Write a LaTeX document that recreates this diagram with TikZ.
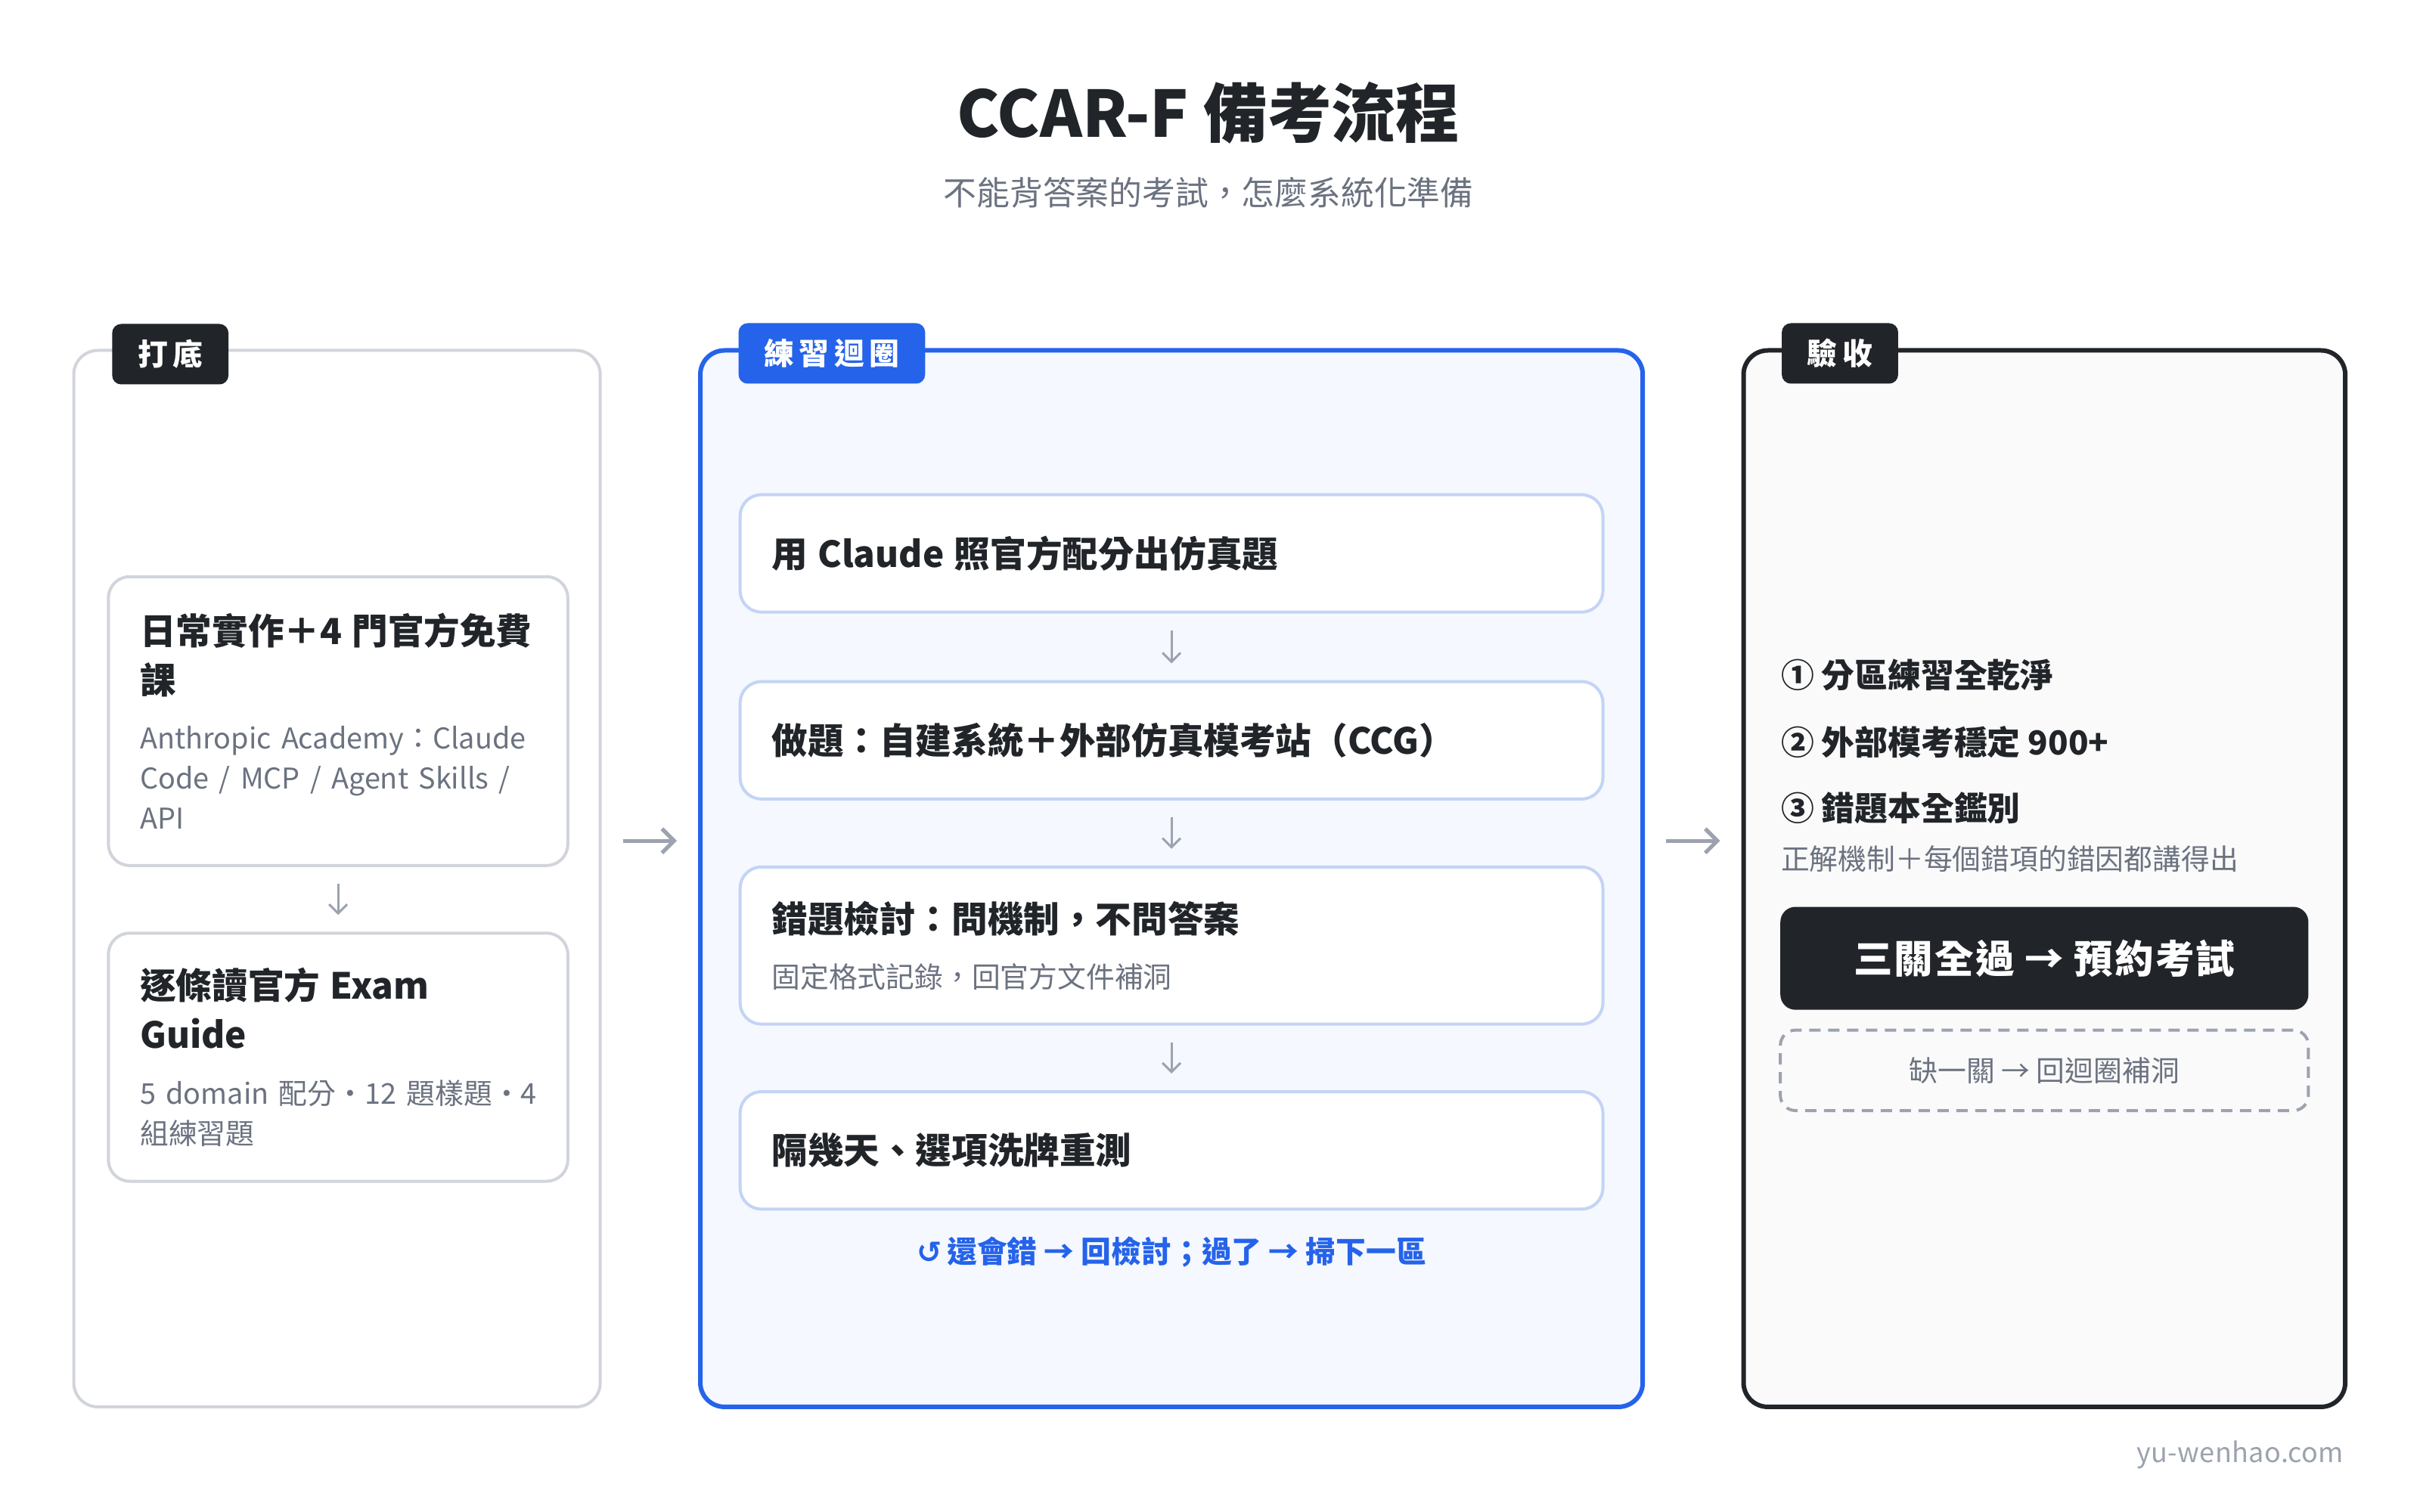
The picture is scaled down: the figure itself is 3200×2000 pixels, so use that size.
\documentclass[tikz,border=0pt]{standalone}
\usepackage{fontspec}
\setmainfont{Noto Sans CJK TC}
\newfontfamily\glyphfont{DejaVu Sans}
\usetikzlibrary{arrows.meta,positioning}
\hyphenpenalty=10000
\exhyphenpenalty=10000

\definecolor{ink}{HTML}{212529}
\definecolor{muted}{HTML}{6B7280}
\definecolor{faint}{HTML}{9CA3AF}
\definecolor{edge}{HTML}{D1D5DB}
\definecolor{loopblue}{HTML}{2563EB}
\definecolor{loopfill}{HTML}{F5F8FF}
\definecolor{loopedge}{HTML}{C3D4F5}
\definecolor{checkfill}{HTML}{FAFAFA}

\newcommand{\sz}[2]{\fontsize{#1}{#2}\selectfont}
\newcommand{\cardhead}[1]{{\sz{11.9pt}{16.2pt}\bfseries #1\par}}
\newcommand{\cardnote}[1]{{\vspace{5.2pt}\sz{9.45pt}{13.2pt}\color{muted}#1\par}}

\tikzset{
  panel/.style={rounded corners=8pt, minimum height=349.35pt, inner sep=0pt},
  tag/.style={fill=ink, text=white, rounded corners=3pt, inner xsep=8.45pt, inner ysep=0pt,
    minimum height=20pt, font=\sz{9.95pt}{12pt}\bfseries},
  card/.style={draw=edge, line width=1pt, fill=white, rounded corners=7pt,
    inner xsep=10.45pt, inner ysep=0pt, align=left, text=ink},
  leftcard/.style={card, text width=130.95pt},
  loopcard/.style={card, draw=loopedge, text width=264.3pt},
  nextarrow/.style={draw=faint, line width=0.75pt, -{Straight Barb[length=3pt,width=6pt]},
    shorten <=5.5pt, shorten >=5.5pt},
  phasearrow/.style={draw=faint, line width=1.3pt, -{Straight Barb[length=4pt,width=8pt]},
    shorten <=7pt, shorten >=7pt},
  gate/.style={anchor=west, inner sep=0pt, text=ink, font=\sz{10.95pt}{13pt}\bfseries},
}

\begin{document}
\begin{tikzpicture}[x=0.25pt,y=-0.25pt]
  \fill[white] (0,0) rectangle (3200,2000);
  \useasboundingbox (0,0) rectangle (3200,2000);

  % heading
  \node[font=\sz{21.2pt}{26pt}\bfseries, text=ink] (title) at (1598,149) {CCAR-F 備考流程};
  \node[font=\sz{10.95pt}{13pt}, text=muted] (subtitle) at (1598,255) {不能背答案的考試，怎麼系統化準備};

  % the three phases
  \node[panel, draw=edge, line width=1pt, fill=white, minimum width=174.05pt] (base) at (445.6,1162.2) {};
  \node[panel, draw=loopblue, line width=1.5pt, fill=loopfill, minimum width=311.55pt] (loop) at (1549.1,1162.2) {};
  \node[panel, draw=ink, line width=1.5pt, fill=checkfill, minimum width=198.9pt] (check) at (2703.3,1162.2) {};

  \node[tag, anchor=west] (basetag) at ([xshift=13pt,yshift=-1.75pt]base.north west) {打\,底};
  \node[tag, anchor=west, fill=loopblue] (looptag) at ([xshift=13.2pt,yshift=-1.75pt]loop.north west) {練\,習\,迴\,圈};
  \node[tag, anchor=west] (checktag) at ([xshift=13.2pt,yshift=-1.75pt]check.north west) {驗\,收};

  % groundwork
  \node[leftcard, minimum height=95.5pt] (course) at (447.1,953.8)
    {\cardhead{日常實作＋4~門官方免費\\課}\cardnote{Anthropic~Academy：Claude\\Code / MCP / Agent Skills /\\API}};
  \node[leftcard, minimum height=82.05pt] (guide) at (447.1,1398.4)
    {\cardhead{逐條讀官方 Exam\\Guide}\cardnote{5~domain~配分・12~題樣題・4\\組練習題}};
  \draw[nextarrow] (course) -- (guide);

  % practice loop
  \node[loopcard, minimum height=38.8pt] (draft) at (1549.1,732) {\cardhead{用 Claude 照官方配分出仿真題}};
  \node[loopcard, minimum height=38.8pt] (drill) at (1549.1,979.2) {\cardhead{做題：自建系統＋外部仿真模考站（CCG）}};
  \node[loopcard, minimum height=51.95pt] (review) at (1549.1,1250.7)
    {\cardhead{錯題檢討：問機制，不問答案}\cardnote{固定格式記錄，回官方文件補洞}};
  \node[loopcard, minimum height=38.8pt] (retest) at (1549.1,1521.7) {\cardhead{隔幾天、選項洗牌重測}};
  \foreach \a/\b in {draft/drill, drill/review, review/retest}
    \draw[nextarrow] (\a) -- (\b);
  \node[font=\sz{9.95pt}{12pt}\bfseries, text=loopblue] (again) at (1549.1,1656)
    {{\glyphfont ↺}\,還會錯 → 回檢討；過了 → 掃下一區};

  % sign-off
  \node[gate] (zone) at (2354.2,893.2) {① 分區練習全乾淨};
  \node[gate] (mock) at (2354.2,981.7) {② 外部模考穩定 900+};
  \node[gate] (wrong) at (2354.2,1069.2) {③ 錯題本全鑑別};
  \node[anchor=west, inner sep=0pt, text=muted, font=\sz{9.45pt}{12pt}] (wrongnote) at (2354.2,1135.8)
    {正解機制＋每個錯項的錯因都講得出};
  \node[fill=ink, text=white, rounded corners=5pt, minimum width=174.55pt, minimum height=34.05pt,
    font=\sz{12.9pt}{15pt}\bfseries\addfontfeature{LetterSpace=4}] (go) at (2703.3,1267.6) {三關全過 → 預約考試};
  \node[draw=faint, line width=1pt, dash pattern=on 3.75pt off 2.5pt, rounded corners=5pt,
    minimum width=174.55pt, minimum height=26.6pt, text=muted, font=\sz{9.45pt}{12pt}] (back) at (2703.3,1415.8)
    {缺一關 → 回迴圈補洞};

  % between phases
  \draw[phasearrow] ([yshift=12.5pt]base.east) -- ([yshift=12.5pt]loop.west);
  \draw[phasearrow] ([yshift=12.5pt]loop.east) -- ([yshift=12.5pt]check.west);

  \node[anchor=east, inner sep=0pt, text=faint, font=\sz{9pt}{11pt}\addfontfeature{LetterSpace=1}] (site) at (3100,1924) {yu-wenhao.com};
\end{tikzpicture}
\end{document}
